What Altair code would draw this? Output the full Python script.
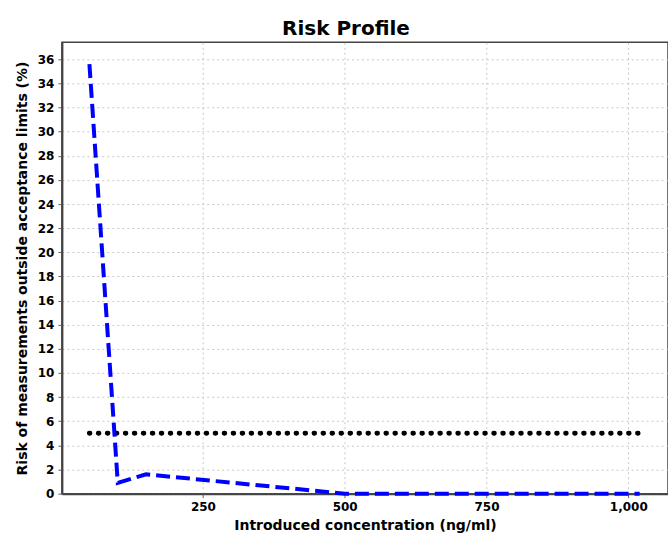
import altair as alt
import pandas as pd

# Data
conc = [50, 100, 150, 500, 1020]
risk = [35.6, 0.9, 1.6, 0.0, 0.0]
limit_conc = [50, 1020]
limit_risk = [5, 5]

x_ticks = [250, 500, 750, 1000]
y_ticks = list(range(0, 37, 2))

risk_df = pd.DataFrame({"conc": conc, "risk": risk})
limit_df = pd.DataFrame({"conc": limit_conc, "risk": limit_risk})

FONT = "DejaVu Sans"

x_enc = alt.X(
    "conc:Q",
    scale=alt.Scale(domain=[1.5, 1070], nice=False, zero=False),
    axis=alt.Axis(
        title="Introduced concentration (ng/ml)",
        values=x_ticks,
        format=",.0f",
    ),
)
y_enc = alt.Y(
    "risk:Q",
    scale=alt.Scale(domain=[0, 37.4], nice=False),
    axis=alt.Axis(
        title="Risk of measurements outside acceptance limits (%)",
        values=y_ticks,
        format="d",
    ),
)

risk_line = alt.Chart(risk_df).mark_line(
    color="#0000ff", strokeWidth=4, strokeDash=[14, 6], clip=False
).encode(x=x_enc, y=y_enc)

limit_line = alt.Chart(limit_df).mark_line(
    color="#000000", strokeWidth=5, strokeDash=[0.5, 8.5], strokeCap="round"
).encode(x=x_enc, y=y_enc)

chart = (
    alt.layer(limit_line, risk_line)
    .properties(
        width=607,
        height=452,
        autosize=alt.AutoSizeParams(type="none"),
        padding={"left": 62, "top": 42, "right": 0, "bottom": 44},
        title=alt.TitleParams(
            "Risk Profile",
            font=FONT,
            fontSize=20,
            fontWeight="bold",
            color="#000000",
            anchor="middle",
            dx=-19,
            offset=3,
        ),
    )
    .configure_view(stroke="#444444", strokeWidth=1.5)
    .configure_axis(
        labelFont=FONT,
        labelFontSize=12,
        labelFontWeight="bold",
        labelColor="#000000",
        labelOverlap=False,
        titleFont=FONT,
        titleFontSize=14,
        titleFontWeight="bold",
        titleColor="#000000",
        domainColor="#444444",
        domainWidth=2,
        tickColor="#666666",
        tickSize=4,
        labelPadding=4,
        gridColor="#c8c8c8",
        gridDash=[2, 3],
        gridWidth=1,
    )
    .configure_axisX(titlePadding=6)
    .configure_axisY(titlePadding=8)
)

chart.save("out.html", embed_options={"renderer": "svg", "actions": False})
